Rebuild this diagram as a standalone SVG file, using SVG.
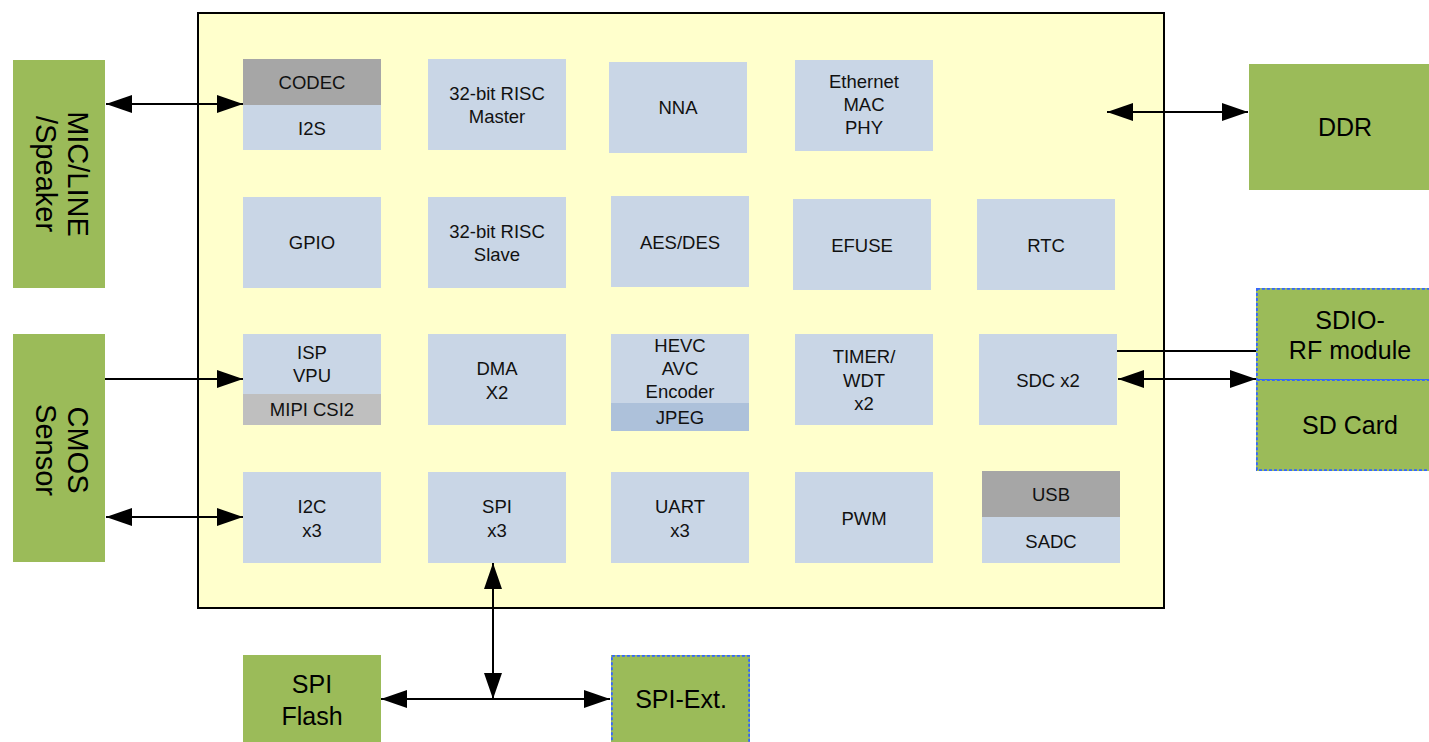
<svg xmlns="http://www.w3.org/2000/svg" width="1429" height="742" viewBox="0 0 1429 742">
<defs>
<style>
.blk{fill:#c9d6e6}
.gray{fill:#a6a6a6}
.lgray{fill:#bfbfbf}
.jpeg{fill:#adc1da}
.grn{fill:#9bbb59}
.dash{fill:none;stroke:#3366ff;stroke-width:1.8;stroke-dasharray:3 2}
.t{font-family:"Liberation Sans",Arial,sans-serif;font-size:18.5px;fill:#111;text-anchor:middle}
.T{font-family:"Liberation Sans",Arial,sans-serif;font-size:25px;fill:#000;text-anchor:middle}
.R{font-family:"Liberation Sans",Arial,sans-serif;font-size:29px;fill:#000;text-anchor:middle}
.ln{stroke:#000;stroke-width:2;fill:none}
</style>
<marker id="ah" markerUnits="userSpaceOnUse" markerWidth="26" markerHeight="18" refX="26" refY="9" orient="auto-start-reverse">
<path d="M0,0 L26,9 L0,18 z" fill="#000"/>
</marker>
</defs>
<rect width="1429" height="742" fill="#fff"/>

<g id="chip">
<rect x="198" y="13" width="966" height="595" fill="#ffffcc" stroke="#000" stroke-width="2"/>
</g>

<g id="codec">
<rect class="gray" x="243" y="59" width="138" height="46"/>
<rect class="blk" x="243" y="105" width="138" height="45"/>
<text class="t" x="312" y="89">CODEC</text>
<text class="t" x="312" y="135">I2S</text>
</g>
<g id="risc-master">
<rect class="blk" x="428" y="59" width="138" height="91"/>
<text class="t" x="497" y="100">32-bit RISC</text>
<text class="t" x="497" y="123">Master</text>
</g>
<g id="nna">
<rect class="blk" x="609" y="62" width="138" height="91"/>
<text class="t" x="678" y="114">NNA</text>
</g>
<g id="ethernet">
<rect class="blk" x="795" y="60" width="138" height="91"/>
<text class="t" x="864" y="88">Ethernet</text>
<text class="t" x="864" y="111">MAC</text>
<text class="t" x="864" y="134">PHY</text>
</g>

<g id="gpio">
<rect class="blk" x="243" y="197" width="138" height="91"/>
<text class="t" x="312" y="249">GPIO</text>
</g>
<g id="risc-slave">
<rect class="blk" x="428" y="197" width="138" height="91"/>
<text class="t" x="497" y="238">32-bit RISC</text>
<text class="t" x="497" y="261">Slave</text>
</g>
<g id="aes">
<rect class="blk" x="611" y="196" width="138" height="91"/>
<text class="t" x="680" y="249">AES/DES</text>
</g>
<g id="efuse">
<rect class="blk" x="793" y="199" width="138" height="91"/>
<text class="t" x="862" y="252">EFUSE</text>
</g>
<g id="rtc">
<rect class="blk" x="977" y="199" width="138" height="91"/>
<text class="t" x="1046" y="252">RTC</text>
</g>

<g id="isp">
<rect class="blk" x="243" y="334" width="138" height="60"/>
<rect class="lgray" x="243" y="394" width="138" height="31"/>
<text class="t" x="312" y="359">ISP</text>
<text class="t" x="312" y="382">VPU</text>
<text class="t" x="312" y="416">MIPI CSI2</text>
</g>
<g id="dma">
<rect class="blk" x="428" y="334" width="138" height="91"/>
<text class="t" x="497" y="375">DMA</text>
<text class="t" x="497" y="399">X2</text>
</g>
<g id="hevc">
<rect class="blk" x="611" y="334" width="138" height="69"/>
<rect class="jpeg" x="611" y="403" width="138" height="28"/>
<text class="t" x="680" y="352">HEVC</text>
<text class="t" x="680" y="375">AVC</text>
<text class="t" x="680" y="398">Encoder</text>
<text class="t" x="680" y="424">JPEG</text>
</g>
<g id="timer">
<rect class="blk" x="795" y="334" width="138" height="91"/>
<text class="t" x="864" y="363">TIMER/</text>
<text class="t" x="864" y="387">WDT</text>
<text class="t" x="864" y="410">x2</text>
</g>
<g id="sdc">
<rect class="blk" x="979" y="334" width="138" height="91"/>
<text class="t" x="1048" y="387">SDC x2</text>
</g>

<g id="i2c">
<rect class="blk" x="243" y="472" width="138" height="91"/>
<text class="t" x="312" y="513">I2C</text>
<text class="t" x="312" y="537">x3</text>
</g>
<g id="spi">
<rect class="blk" x="428" y="472" width="138" height="91"/>
<text class="t" x="497" y="513">SPI</text>
<text class="t" x="497" y="537">x3</text>
</g>
<g id="uart">
<rect class="blk" x="611" y="472" width="138" height="91"/>
<text class="t" x="680" y="513">UART</text>
<text class="t" x="680" y="537">x3</text>
</g>
<g id="pwm">
<rect class="blk" x="795" y="472" width="138" height="91"/>
<text class="t" x="864" y="525">PWM</text>
</g>
<g id="usb">
<rect class="gray" x="982" y="471" width="138" height="46"/>
<rect class="blk" x="982" y="517" width="138" height="46"/>
<text class="t" x="1051" y="501">USB</text>
<text class="t" x="1051" y="548">SADC</text>
</g>

<g id="mic">
<rect class="grn" x="13" y="60" width="92" height="228"/>
<g transform="translate(59,174) rotate(90)">
<text class="R" x="0" y="-9">MIC/LINE</text>
<text class="R" x="0" y="23">/Speaker</text>
</g>
</g>
<g id="cmos">
<rect class="grn" x="13" y="334" width="92" height="228"/>
<g transform="translate(59,450) rotate(90)">
<text class="R" x="0" y="-9">CMOS</text>
<text class="R" x="0" y="23">Sensor</text>
</g>
</g>
<g id="ddr">
<rect class="grn" x="1249" y="64" width="180" height="126"/>
<text class="T" x="1345" y="136">DDR</text>
</g>
<g id="sdio">
<rect class="grn" x="1256" y="288" width="173" height="92"/>
<rect class="dash" x="1256.9" y="288.9" width="180" height="91"/>
<text class="T" x="1350" y="329">SDIO-</text>
<text class="T" x="1350" y="359">RF module</text>
</g>
<g id="sdcard">
<rect class="grn" x="1256" y="380" width="173" height="91"/>
<rect class="dash" x="1256.9" y="380" width="180" height="90.1"/>
<text class="T" x="1350" y="434">SD Card</text>
</g>
<g id="spiflash">
<rect class="grn" x="243" y="655" width="138" height="87"/>
<text class="T" x="312" y="693">SPI</text>
<text class="T" x="312" y="725">Flash</text>
</g>
<g id="spiext">
<rect class="grn" x="611" y="655" width="139" height="87"/>
<rect class="dash" x="611.9" y="655.9" width="137.2" height="90"/>
<text class="T" x="681" y="708">SPI-Ext.</text>
</g>

<g id="connectors">
<line class="ln" x1="106" y1="104" x2="243" y2="104" marker-start="url(#ah)" marker-end="url(#ah)"/>
<line class="ln" x1="105" y1="379" x2="243" y2="379" marker-end="url(#ah)"/>
<line class="ln" x1="106" y1="517" x2="243" y2="517" marker-start="url(#ah)" marker-end="url(#ah)"/>
<line class="ln" x1="1107" y1="112" x2="1248" y2="112" marker-start="url(#ah)" marker-end="url(#ah)"/>
<line class="ln" x1="1117" y1="351" x2="1256" y2="351"/>
<line class="ln" x1="1118" y1="379" x2="1256" y2="379" marker-start="url(#ah)" marker-end="url(#ah)"/>
<line class="ln" x1="493" y1="563" x2="493" y2="699" marker-start="url(#ah)" marker-end="url(#ah)"/>
<line class="ln" x1="381" y1="699" x2="610" y2="699" marker-start="url(#ah)" marker-end="url(#ah)"/>
</g>
</svg>
